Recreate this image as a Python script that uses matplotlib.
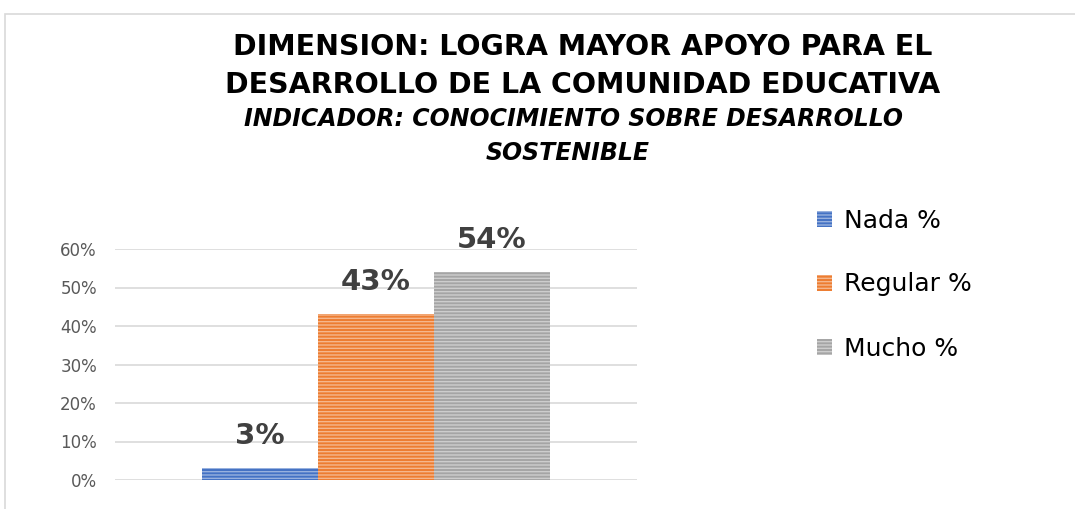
import matplotlib
matplotlib.use("Agg")
import matplotlib.pyplot as plt
import matplotlib.patches as mpatches

# Datos
series = ["Nada %", "Regular %", "Mucho %"]
valores = [0.03, 0.43, 0.54]
etiquetas = ["3%", "43%", "54%"]
colores = ["#4472C4", "#ED7D31", "#A5A5A5"]
yticks = [0, 0.1, 0.2, 0.3, 0.4, 0.5, 0.6]
ytick_labels = ["0%", "10%", "20%", "30%", "40%", "50%", "60%"]

W, H = 1075, 509
plt.rcParams['hatch.linewidth'] = 1.0
fig = plt.figure(figsize=(W / 100, H / 100), dpi=100)

# marco del area del grafico (solo se ve arriba e izquierda)
fig.patches.append(mpatches.Rectangle((5 / W, -0.1), 1.2, 1.1 - 14 / H, transform=fig.transFigure,
                                      fill=False, edgecolor="#D9D9D9", linewidth=1.2))

ax = fig.add_axes([115 / W, (H - 480) / H, (637 - 115) / W, (480 - 249) / H])
ancho = 116 / 522
for i, (s, v, c) in enumerate(zip(series, valores, colores)):
    x = (i - 1) * ancho
    ax.bar(x, v, width=ancho, color=c, edgecolor=(1, 1, 1, 0.45), linewidth=0,
           hatch="-----", label=s, zorder=2)
    ax.annotate(etiquetas[i], (x, v), xytext=(0, 13), textcoords="offset points",
                ha="center", va="bottom", fontsize=21, fontweight="bold", color="#404040")

ax.set_xlim(-0.5, 0.5)
ax.set_ylim(0, 0.6)
ax.set_yticks(yticks)
ax.set_yticklabels(ytick_labels, fontsize=12, color="#595959")
ax.set_xticks([])
ax.tick_params(axis="y", length=0, pad=13)
ax.grid(axis="y", color="#D9D9D9", linewidth=1.2, zorder=0)
for sp in ax.spines.values():
    sp.set_visible(False)

fig.text(583 / W, 1 - 47 / H, "DIMENSION: LOGRA MAYOR APOYO PARA EL",
         ha="center", va="center", fontsize=20.5, fontweight="bold", color="black")
fig.text(583 / W, 1 - 85 / H, "DESARROLLO DE LA COMUNIDAD EDUCATIVA",
         ha="center", va="center", fontsize=20.5, fontweight="bold", color="black")
fig.text(574 / W, 1 - 119 / H, "INDICADOR: CONOCIMIENTO SOBRE DESARROLLO",
         ha="center", va="center", fontsize=17, fontweight="bold", style="italic", color="black")
fig.text(568 / W, 1 - 153 / H, "SOSTENIBLE",
         ha="center", va="center", fontsize=17, fontweight="bold", style="italic", color="black")

handles = [mpatches.Patch(facecolor=c, edgecolor=(1, 1, 1, 0.45), linewidth=0, hatch="-----", label=s)
           for s, c in zip(series, colores)]
fig.legend(handles=handles, loc="upper left", bbox_to_anchor=(794 / W, 1 - 186 / H),
           frameon=False, fontsize=18, handlelength=0.6, handleheight=0.6,
           handletextpad=0.5, labelspacing=1.6)

fig.savefig("out.png", dpi=100)
